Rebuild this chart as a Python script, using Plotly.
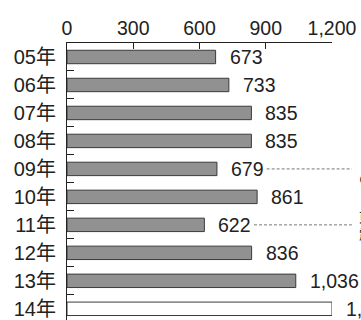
import plotly.graph_objects as go

years = ["05年", "06年", "07年", "08年", "09年", "10年", "11年", "12年", "13年", "14年"]
values = [673, 733, 835, 835, 679, 861, 622, 836, 1036, 1200]
value_labels = ["673", "733", "835", "835", "679", "861", "622", "836", "1,036", "1,200"]
x_ticks = [0, 300, 600, 900, 1200]
x_tick_labels = ["0", "300", "600", "900", "1,200"]
notes = {"09年": "リーマン・ショック<br>の影響", "11年": "東日本大震災<br>震災の影響"}

fills = ["#919191"] * (len(years) - 1) + ["#ffffff"]

fig = go.Figure()
fig.add_trace(go.Bar(
    y=years, x=values, orientation="h",
    marker=dict(color=fills, line=dict(color="#3a3a3a", width=1)),
    width=0.48, hoverinfo="skip",
))

font_num = "Liberation Sans, Arial, sans-serif"
x_max = x_ticks[-1]
ann = []
shapes = []
for y, v, t in zip(years, values, value_labels):
    ann.append(dict(x=v, y=y, xref="x", yref="y", text=t, showarrow=False,
                    xanchor="left", yanchor="middle", xshift=12, yshift=0,
                    font=dict(family=font_num, size=19.5, color="#222")))
for y, note in notes.items():
    v = values[years.index(y)]
    shapes.append(dict(type="line", xref="paper", yref="y", x0=(v + 225) / x_max, x1=1.075,
                       y0=y, y1=y, line=dict(color="#777", width=1, dash="3px,2px")))
    ann.append(dict(x=1.096, y=y, xref="paper", yref="y", text=note, showarrow=False,
                    xanchor="left", yanchor="middle", align="left",
                    font=dict(family="Noto Sans CJK JP", size=13, color="#222")))

fig.update_layout(
    width=361, height=320,
    margin=dict(l=67, r=29, t=43, b=0),
    paper_bgcolor="white", plot_bgcolor="white",
    showlegend=False,
    annotations=ann, shapes=shapes,
    xaxis=dict(side="top", range=[0, x_max], tickvals=x_ticks, ticktext=x_tick_labels,
               ticks="inside", ticklen=6, tickcolor="#222", tickwidth=1,
               showline=True, linecolor="#222", linewidth=1.2, showgrid=False,
               zeroline=False, ticklabelstandoff=-1,
               tickfont=dict(family=font_num, size=19.5, color="#222")),
    yaxis=dict(categoryorder="array", categoryarray=years, range=[9.4, -0.5],
               ticks="inside", tickson="boundaries", ticklen=7, tickcolor="#222",
               showline=True, linecolor="#222", linewidth=1.2, showgrid=False,
               zeroline=False, ticklabelstandoff=6,
               tickfont=dict(family="Liberation Sans, Noto Sans CJK JP", size=20, color="#222")),
)

fig.write_html("out.html")
